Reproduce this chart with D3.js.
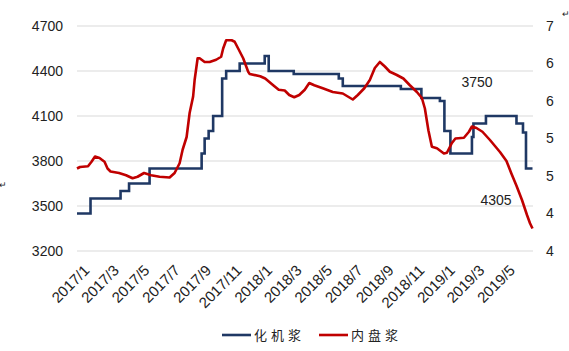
<!DOCTYPE html>
<html>
<head>
<meta charset="utf-8">
<script src="https://cdn.jsdelivr.net/npm/d3@7"></script>
<style>
  body { margin: 0; background: #fff; }
  text { font-family: "Liberation Sans", Arial, sans-serif; fill: #222; }
</style>
</head>
<body>
<div class="canvas"></div>
<script>
// 化机浆 (left axis), step changes
const blueDates = ['2017-01-01','2017-01-28','2017-03-29','2017-04-15','2017-05-26','2017-09-07','2017-09-13',
  '2017-09-21','2017-09-30','2017-10-18','2017-10-26','2017-11-22','2018-01-11','2018-01-19','2018-03-10',
  '2018-06-08','2018-06-16','2018-10-10','2018-11-20','2018-12-27','2019-01-05','2019-01-17','2019-03-01',
  '2019-03-04','2019-03-29','2019-05-29','2019-06-11','2019-06-17','2019-06-30']
const blueValues = [3450,3550,3600,3650,3750,3850,3950,
  4000,4100,4350,4400,4450,4500,4400,4380,
  4350,4300,4280,4220,4200,4000,3850,3960,
  4050,4100,4050,3990,3750,3750]

// 内盘浆 (right axis)
const redDates = ['2017-01-01','2017-01-07','2017-01-23','2017-01-30','2017-02-06','2017-02-15','2017-02-25',
  '2017-03-03','2017-03-09','2017-03-26','2017-04-09','2017-04-22','2017-05-02','2017-05-15','2017-05-29',
  '2017-06-15','2017-07-05','2017-07-15','2017-07-25','2017-07-31','2017-08-08','2017-08-14','2017-08-21',
  '2017-08-24','2017-08-30','2017-09-03','2017-09-13','2017-09-23','2017-10-06','2017-10-16','2017-10-20',
  '2017-10-26','2017-11-06','2017-11-12','2017-11-19','2017-11-29','2017-12-09','2017-12-12','2018-01-02',
  '2018-01-12','2018-01-28','2018-02-08','2018-02-20','2018-03-01','2018-03-11','2018-03-21','2018-04-01',
  '2018-04-10','2018-04-20','2018-05-07','2018-05-27','2018-06-16','2018-07-06','2018-07-16','2018-07-29',
  '2018-08-09','2018-08-19','2018-08-29','2018-09-08','2018-09-18','2018-10-01','2018-10-15','2018-10-28',
  '2018-11-11','2018-11-21','2018-11-27','2018-12-04','2018-12-11','2018-12-21','2019-01-04','2019-01-10',
  '2019-01-20','2019-01-27','2019-02-13','2019-02-23','2019-03-01','2019-03-10','2019-03-22','2019-04-06',
  '2019-04-26','2019-05-09','2019-05-19','2019-05-29','2019-06-09','2019-06-19','2019-06-25','2019-06-30']
const redValues = [5.10,5.12,5.13,5.19,5.26,5.24,5.19,
  5.10,5.06,5.04,5.01,4.97,4.99,5.04,5.01,
  4.99,4.98,5.04,5.17,5.35,5.52,5.84,6.06,
  6.28,6.57,6.57,6.52,6.52,6.55,6.59,6.70,
  6.81,6.81,6.79,6.70,6.57,6.39,6.36,6.33,
  6.30,6.21,6.15,6.14,6.08,6.05,6.08,6.15,
  6.24,6.21,6.17,6.12,6.10,6.02,6.08,6.17,
  6.28,6.44,6.52,6.46,6.39,6.35,6.30,6.21,
  6.12,6.04,5.90,5.61,5.39,5.37,5.30,5.31,
  5.44,5.50,5.51,5.59,5.66,5.64,5.59,5.48,
  5.32,5.20,5.03,4.87,4.68,4.48,4.37,4.30]

const leftTicks = [3200, 3500, 3800, 4100, 4400, 4700]
const rightTicks = [4, 4.5, 5, 5.5, 6, 6.5, 7]
const rightTickLabels = ['4', '4', '5', '5', '6', '6', '7']
const xTickDates = ['2017-01-01','2017-03-01','2017-05-01','2017-07-01','2017-09-01','2017-11-01','2018-01-01',
  '2018-03-01','2018-05-01','2018-07-01','2018-09-01','2018-11-01','2019-01-01','2019-03-01','2019-05-01']
const xTickLabels = ['2017/1','2017/3','2017/5','2017/7','2017/9','2017/11','2018/1',
  '2018/3','2018/5','2018/7','2018/9','2018/11','2019/1','2019/3','2019/5']
const seriesNames = ['化机浆', '内盘浆']
const seriesColors = ['#1f3864', '#c00000']
const noteTexts = ['3750', '4305']
const noteDates = ['2019-02-08', '2019-03-18']
const noteValues = [4293, 3506]

const parse = d3.timeParse('%Y-%m-%d')
const dims = { width: 569, height: 351, left: 77, right: 533, top: 26, bottom: 251 }

const svg = d3.select('.canvas')
  .append('svg')
    .attr('width', dims.width)
    .attr('height', dims.height)

const x = d3.scaleTime()
  .domain([parse('2017-01-01'), parse('2019-07-01')])
  .range([dims.left, dims.right])

const yLeft = d3.scaleLinear().domain([3200, 4700]).range([dims.bottom, dims.top])
const yRight = d3.scaleLinear().domain([4, 7]).range([dims.bottom, dims.top])

// gridlines
svg.append('g')
  .selectAll('line')
  .data(leftTicks)
  .join('line')
    .attr('x1', dims.left).attr('x2', dims.right)
    .attr('y1', d => yLeft(d)).attr('y2', d => yLeft(d))
    .attr('stroke', '#d9d9d9').attr('stroke-width', 1)

// left axis
const leftAxis = svg.append('g')
  .attr('transform', `translate(${dims.left - 14},0)`)
  .call(d3.axisLeft(yLeft).tickValues(leftTicks).tickSize(0).tickPadding(0).tickFormat(d3.format('d')))
leftAxis.select('.domain').remove()
leftAxis.selectAll('text').style('font-size', '14px').attr('fill', '#222')
  .style('font-family', '"Liberation Sans", Arial, sans-serif')

// right axis
const rightAxis = svg.append('g')
  .attr('transform', `translate(${dims.right + 13},0)`)
  .call(d3.axisRight(yRight).tickValues(rightTicks).tickSize(0).tickPadding(0)
    .tickFormat((d, i) => rightTickLabels[i]))
rightAxis.select('.domain').remove()
rightAxis.selectAll('text').style('font-size', '14px').attr('fill', '#222')
  .style('font-family', '"Liberation Sans", Arial, sans-serif')

// x tick labels, rotated
svg.append('g')
  .selectAll('text')
  .data(xTickDates)
  .join('text')
    .attr('transform', d => `translate(${x(parse(d)) + 6},${dims.bottom + 13}) rotate(-45)`)
    .attr('text-anchor', 'end')
    .attr('dy', '0.7em')
    .style('font-size', '15px')
    .text((d, i) => xTickLabels[i])

// lines
const blueLine = d3.line()
  .x(d => x(d.date))
  .y(d => yLeft(d.value))
  .curve(d3.curveStepAfter)

const redLine = d3.line()
  .x(d => x(d.date))
  .y(d => yRight(d.value))

const blueData = blueDates.map((d, i) => ({ date: parse(d), value: blueValues[i] }))
const redData = redDates.map((d, i) => ({ date: parse(d), value: redValues[i] }))

svg.append('path')
  .datum(blueData)
  .attr('d', blueLine)
  .attr('fill', 'none')
  .attr('stroke', seriesColors[0])
  .attr('stroke-width', 2.6)

svg.append('path')
  .datum(redData)
  .attr('d', redLine)
  .attr('fill', 'none')
  .attr('stroke', seriesColors[1])
  .attr('stroke-width', 2.6)
  .attr('stroke-linejoin', 'round')

// annotations
svg.append('g')
  .selectAll('text')
  .data(noteTexts)
  .join('text')
    .attr('x', (d, i) => x(parse(noteDates[i])))
    .attr('y', (d, i) => yLeft(noteValues[i]))
    .style('font-size', '14px')
    .text(d => d)

// small return marks
svg.append('text').attr('x', 562).attr('y', 17).style('font-size', '9px').attr('fill', '#888').text('↵')
svg.append('text').attr('x', -1).attr('y', 188).style('font-size', '9px').attr('fill', '#888').text('↵')

// legend
const legendX = [222, 319]
const legend = svg.append('g')
  .selectAll('g')
  .data(seriesNames)
  .join('g')
    .attr('transform', (d, i) => `translate(${legendX[i]},335)`)

legend.append('line')
  .attr('x1', 0).attr('x2', 29)
  .attr('stroke', (d, i) => seriesColors[i])
  .attr('stroke-width', 2.6)

legend.append('text')
  .attr('x', 32)
  .attr('dy', '0.35em')
  .style('font-size', '13px')
  .style('letter-spacing', '4px')
  .style('font-family', '"Noto Sans CJK SC", sans-serif')
  .text(d => d)
</script>
</body>
</html>
